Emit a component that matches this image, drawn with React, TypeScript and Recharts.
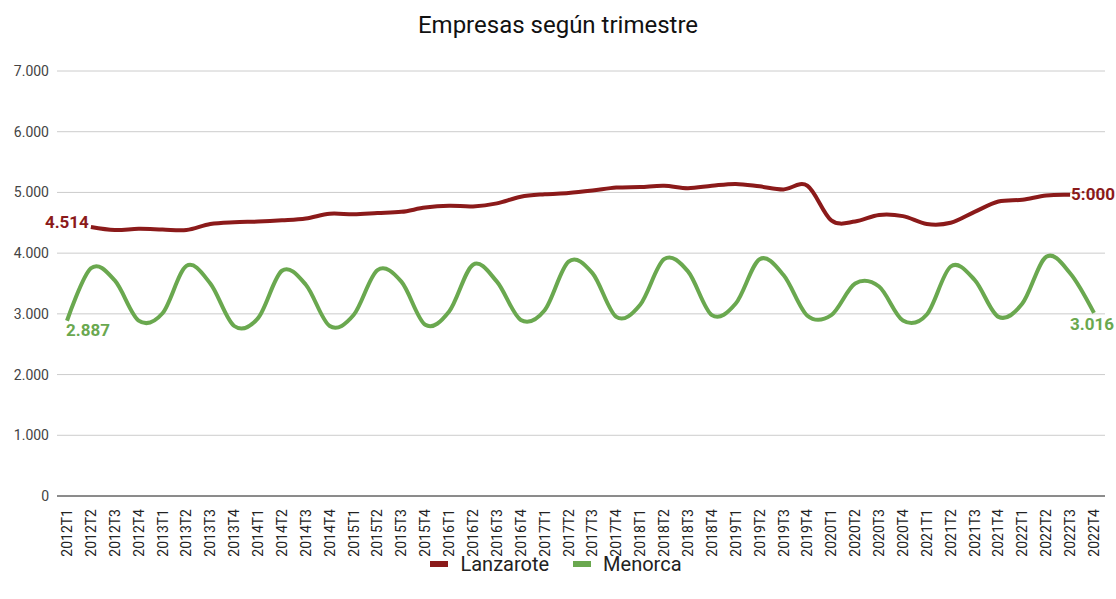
import React from 'react';
import { LineChart, Line, XAxis, YAxis, CartesianGrid, Legend } from 'recharts';

// quarters shown on the x axis
const quarters: string[] = [
  '2012T1', '2012T2', '2012T3', '2012T4', '2013T1', '2013T2', '2013T3', '2013T4',
  '2014T1', '2014T2', '2014T3', '2014T4', '2015T1', '2015T2', '2015T3', '2015T4',
  '2016T1', '2016T2', '2016T3', '2016T4', '2017T1', '2017T2', '2017T3', '2017T4',
  '2018T1', '2018T2', '2018T3', '2018T4', '2019T1', '2019T2', '2019T3', '2019T4',
  '2020T1', '2020T2', '2020T3', '2020T4', '2021T1', '2021T2', '2021T3', '2021T4',
  '2022T1', '2022T2', '2022T3', '2022T4',
];

const lanzarote: (number | null)[] = [
  null, 4430, 4380, 4400, 4390, 4380, 4480, 4510, 4520, 4540, 4570, 4650, 4640, 4660, 4680, 4750,
  4780, 4770, 4820, 4930, 4970, 4990, 5030, 5080, 5090, 5110, 5070, 5110, 5140, 5100, 5050, 5110,
  4540, 4520, 4630, 4610, 4480, 4500, 4680, 4850, 4880, 4950, 4960, null,
];

const menorca: number[] = [
  2887, 3750, 3550, 2890, 3010, 3790, 3500, 2800, 2930, 3710, 3480, 2800, 2980, 3720, 3530, 2820,
  3040, 3810, 3530, 2900, 3060, 3860, 3670, 2950, 3150, 3900, 3700, 2980, 3170, 3900, 3640, 2970,
  2980, 3500, 3450, 2890, 2990, 3780, 3560, 2950, 3170, 3940, 3670, 3016,
];

// texts printed next to the first and last point of each series
const lanzaroteLabels = ['4.514', '5:000'];
const menorcaLabels = ['2.887', '3.016'];

const yTicks = [0, 1000, 2000, 3000, 4000, 5000, 6000, 7000];

const RED = '#8b1a1a';
const GREEN = '#6aa84f';

const data = quarters.map((q, i) => ({ q, lanzarote: lanzarote[i], menorca: menorca[i] }));

const fmt = (v: number) => (v === 0 ? '0' : v.toString().replace(/\B(?=(\d{3})+(?!\d))/g, '.'));

const firstIdx = (arr: (number | null)[]) => arr.findIndex(v => v !== null);
const lastIdx = (arr: (number | null)[]) => {
  for (let i = arr.length - 1; i >= 0; i--) if (arr[i] !== null) return i;
  return -1;
};

// catmull-rom style smoothing (cardinal, tension 0), closer to the spreadsheet look
const smoothCurve = (context: any) => {
  const k = 1 / 6;
  let x0 = NaN, y0 = NaN, x1 = NaN, y1 = NaN, x2 = NaN, y2 = NaN, p = 0;
  const seg = (x: number, y: number) => {
    context.bezierCurveTo(x1 + k * (x2 - x0), y1 + k * (y2 - y0), x2 + k * (x1 - x), y2 + k * (y1 - y), x2, y2);
  };
  return {
    areaStart() {},
    areaEnd() {},
    lineStart() { x0 = x1 = x2 = y0 = y1 = y2 = NaN; p = 0; },
    lineEnd() {
      if (p === 2) context.lineTo(x2, y2);
      else if (p === 3) seg(x1, y1);
    },
    point(x: number, y: number) {
      if (p === 0) { p = 1; context.moveTo(x, y); }
      else if (p === 1) { p = 2; x1 = x; y1 = y; }
      else { if (p === 2) p = 3; seg(x, y); }
      x0 = x1; x1 = x2; x2 = x;
      y0 = y1; y1 = y2; y2 = y;
    },
  };
};

const XTick = (props: any) => {
  const { x, y, payload } = props;
  return (
    <text
      transform={`translate(${x + 5},${y + 5}) rotate(-90)`}
      textAnchor="end"
      fontSize={14}
      fill="#222"
      fontFamily="Roboto"
    >
      {payload.value}
    </text>
  );
};

const makeLabel = (arr: (number | null)[], texts: string[], color: string, kind: 'red' | 'green') => (props: any) => {
  const { x, y, index } = props;
  const first = firstIdx(arr);
  const last = lastIdx(arr);
  if (index !== first && index !== last) return null;
  const isFirst = index === first;
  let tx = x;
  let ty = y;
  let anchor: 'start' | 'end' | 'middle' = 'start';
  if (kind === 'red') {
    if (isFirst) { tx = x - 2; ty = y + 1; anchor = 'end'; }
    else { tx = x + 1; ty = y + 5; anchor = 'start'; }
  } else {
    if (isFirst) { tx = x - 1; ty = y + 15; anchor = 'start'; }
    else { tx = x + 20; ty = y + 17; anchor = 'end'; }
  }
  return (
    <text key={`lbl-${kind}-${index}`} x={tx} y={ty} textAnchor={anchor} fill={color}
      fontSize={17} fontWeight="bold" fontFamily="Roboto">
      {isFirst ? texts[0] : texts[1]}
    </text>
  );
};

const LegendContent = () => (
  <div style={{ display: 'flex', justifyContent: 'center', alignItems: 'center', height: 30, fontFamily: 'Roboto', fontSize: 20, color: '#222' }}>
    <span style={{ display: 'inline-block', width: 18, height: 6, background: RED, marginRight: 12 }} />
    <span style={{ marginRight: 24 }}>Lanzarote</span>
    <span style={{ display: 'inline-block', width: 18, height: 6, background: GREEN, marginRight: 12 }} />
    <span>Menorca</span>
  </div>
);

const App: React.FC = () => {
  return (
    <div style={{ position: 'absolute', left: 0, top: 0, width: 1116, height: 599, background: '#fff', fontFamily: 'Roboto' }}>
      <div style={{ position: 'absolute', top: 11, width: '100%', textAlign: 'center', fontSize: 24, color: '#111' }}>
        Empresas según trimestre
      </div>
      <LineChart width={1116} height={599} data={data} margin={{ top: 71, right: 11, left: 7, bottom: 20 }}>
        <CartesianGrid vertical={false} stroke="#cccccc" />
        <XAxis
          dataKey="q"
          interval={0}
          height={53}
          padding={{ left: 10, right: 11 }}
          tickLine={false}
          stroke="#333"
          tick={<XTick />}
        />
        <YAxis
          width={50}
          domain={[0, 7000]}
          ticks={yTicks}
          axisLine={false}
          tickLine={false}
          tickFormatter={fmt}
          tick={{ fontSize: 14, fill: '#444', fontFamily: 'Roboto' }}
        />
        <Legend verticalAlign="bottom" content={<LegendContent />} />
        <Line
          type={smoothCurve as any}
          dataKey="lanzarote"
          name="Lanzarote"
          stroke={RED}
          strokeWidth={4}
          dot={false}
          isAnimationActive={false}
          label={makeLabel(lanzarote, lanzaroteLabels, RED, 'red')}
        />
        <Line
          type={smoothCurve as any}
          dataKey="menorca"
          name="Menorca"
          stroke={GREEN}
          strokeWidth={4}
          dot={false}
          isAnimationActive={false}
          label={makeLabel(menorca, menorcaLabels, GREEN, 'green')}
        />
      </LineChart>
    </div>
  );
};

export default App;
